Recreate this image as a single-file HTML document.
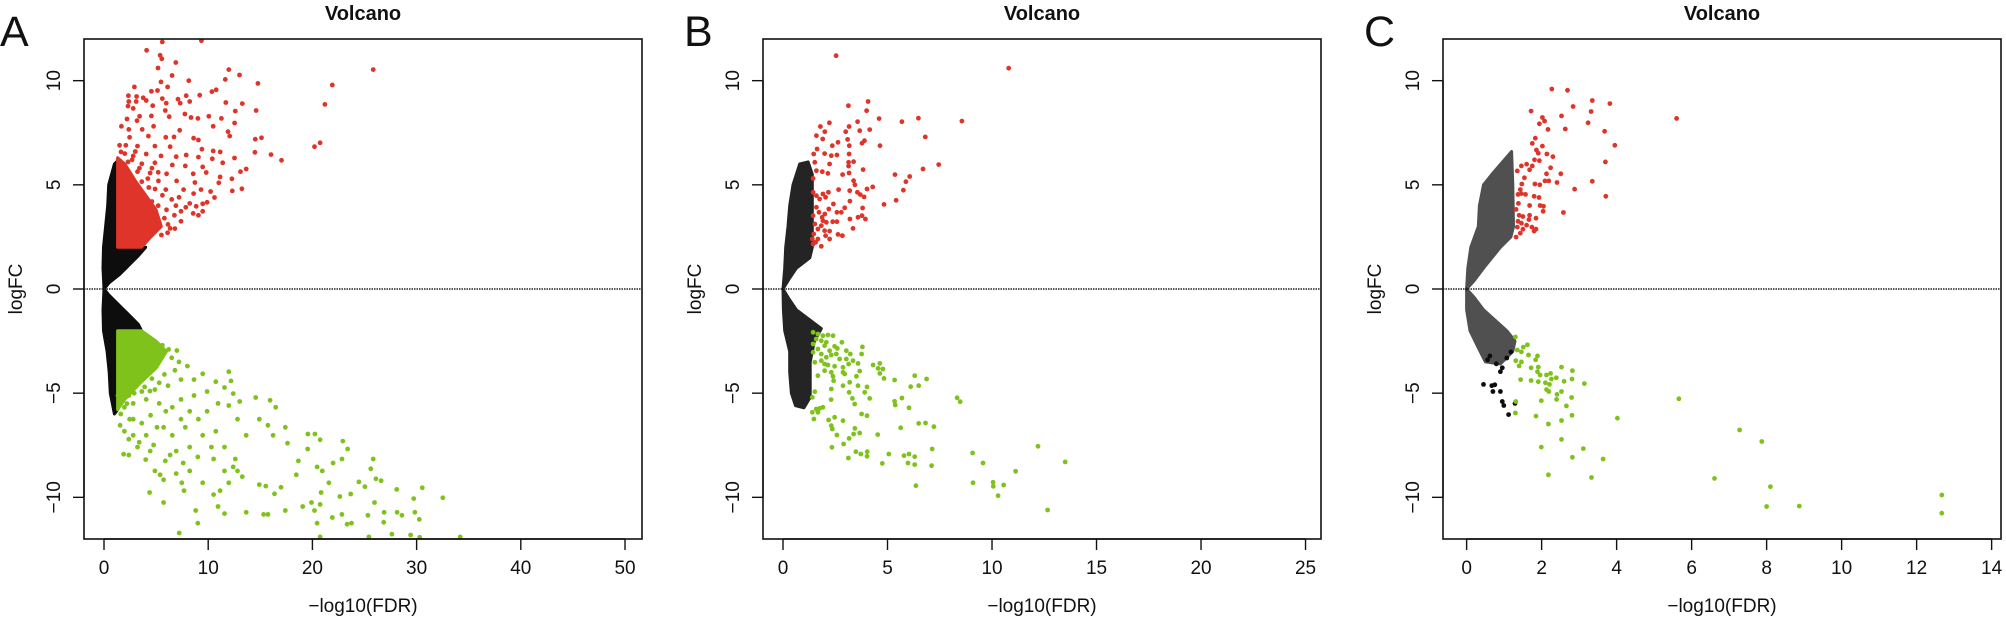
<!DOCTYPE html>
<html><head><meta charset="utf-8"><style>
html,body{margin:0;padding:0;background:#fff;}
svg{display:block;font-family:"Liberation Sans",Arial,sans-serif;}
</style></head><body>
<svg id="fig" width="2006" height="620" viewBox="0 0 2006 620" xmlns="http://www.w3.org/2000/svg"></svg>
<script>
// ---- shared data ----
const yTicks = [-10,-5,0,5,10];
const xTicksA = [0,10,20,30,40,50];
const xTicksB = [0,5,10,15,20,25];
const xTicksC = [0,2,4,6,8,10,12,14];

// Panel A
const blackUpA = [[0,0],[-0.1,1],[-0.05,2],[0.15,3],[0.35,4],[0.45,5],[1.0,6],[1.2,6.1],[1.3,6],[1.3,2],[4,2],[3.3,1.6],[2.3,1.1],[1.5,0.7],[0.5,0.3],[0,0]];
const blackDnA = [[0,0],[-0.1,-1],[-0.05,-2],[0.3,-3],[0.5,-4],[0.6,-5],[1.0,-6],[1.3,-5.8],[1.3,-2],[3.6,-2],[3.3,-1.7],[2.5,-1.3],[1.5,-0.8],[0.5,-0.3],[0,0]];
const redBlockA = [[1.3,2],[3.6,2],[4.5,2.5],[5.5,3],[5,3.8],[4,4.5],[3,5.2],[2,6],[1.3,6.3]];
const greenBlockA = [[1.3,-2],[3.6,-2],[5,-2.5],[6,-3],[5,-3.8],[3.5,-4.5],[2,-5.3],[1.3,-5.8]];
const redA = [[5.59,11.86],[9.35,11.92],[4.09,11.46],[5.38,11.22],[5.55,11.05],[6.89,10.87],[5.18,10.61],[11.98,10.53],[25.83,10.53],[13.0,10.27],[6.53,10.25],[8.14,10.0],[11.64,10.06],[14.77,9.87],[21.91,9.79],[5.47,9.94],[6.1,9.7],[2.92,9.7],[4.55,9.49],[5.13,9.53],[10.35,9.47],[10.77,9.56],[2.34,9.28],[3.13,9.24],[3.76,9.18],[7.89,9.28],[9.18,9.3],[2.38,9.0],[3.09,9.0],[4.05,9.05],[5.59,9.14],[7.1,9.11],[8.22,9.0],[11.69,8.95],[13.27,8.9],[21.2,8.86],[4.67,8.8],[5.97,8.92],[7.31,8.92],[2.3,8.78],[2.8,8.67],[12.6,8.54],[14.6,8.57],[7.76,8.4],[8.35,8.23],[9.01,8.19],[10.06,8.29],[6.26,8.27],[4.55,8.31],[3.42,8.29],[2.21,8.16],[3.17,8.08],[11.27,8.19],[5.88,8.57],[10.48,7.81],[12.53,7.97],[4.76,7.81],[1.67,7.81],[2.38,7.66],[3.67,7.66],[7.26,7.62],[11.9,7.55],[12.06,7.34],[14.52,7.19],[15.11,7.26],[2.46,7.28],[4.26,7.34],[5.93,7.28],[6.72,7.3],[8.6,7.24],[9.06,7.15],[20.2,6.83],[20.74,7.02],[2.09,6.9],[3.21,6.86],[4.88,6.86],[6.34,6.83],[9.39,6.71],[14.48,6.56],[16.03,6.45],[17.03,6.18],[10.48,6.63],[11.15,6.58],[1.63,6.58],[2.8,6.39],[4.05,6.48],[5.47,6.39],[6.93,6.35],[7.89,6.43],[9.06,6.33],[10.39,6.25],[11.39,6.06],[12.52,6.29],[2.3,6.1],[3.63,6.01],[4.88,6.06],[6.55,5.95],[7.8,5.91],[9.47,5.86],[13.65,5.76],[13.1,5.63],[1.75,5.72],[3.21,5.63],[4.42,5.57],[6.01,5.53],[8.56,5.53],[9.81,5.59],[11.14,5.38],[12.27,5.29],[1.71,5.3],[2.38,5.21],[3.63,5.15],[5.22,5.19],[6.97,5.19],[8.72,5.11],[11.02,5.1],[12.31,4.71],[13.23,4.81],[1.96,4.81],[4.3,4.87],[5.93,4.77],[7.64,4.77],[9.31,4.77],[10.23,4.68],[8.6,4.58],[10.6,4.39],[9.47,4.09],[9.89,4.16],[8.85,3.97],[8.56,3.63],[9.06,3.54],[9.47,3.73],[7.85,3.92],[8.22,4.11],[7.39,3.73],[6.76,3.54],[7.39,3.25],[6.14,3.1],[6.34,2.91],[5.51,2.59],[4.6,4.2],[5.2,4.0],[6.0,3.8],[6.5,4.3],[5.6,4.5],[4.9,4.8],[4.2,5.3],[3.4,5.8],[2.7,6.2],[6.8,2.9],[6.1,2.7],[5.8,3.4],[6.9,4.0],[7.2,4.4],[5.2,5.6],[4.6,5.8],[3.0,6.6],[2.0,6.5],[1.5,6.9]];
const greenA = [[7.22,-11.71],[9.0,-11.24],[8.8,-10.63],[5.72,-10.25],[4.38,-9.77],[5.38,-8.92],[5.72,-9.16],[6.93,-8.86],[2.38,-7.97],[1.88,-7.93],[4.0,-8.19],[5.88,-8.25],[7.6,-8.35],[9.0,-8.06],[6.93,-7.78],[4.76,-7.49],[3.38,-7.36],[2.38,-7.21],[1.96,-6.83],[1.54,-6.54],[2.46,-6.25],[3.63,-6.44],[4.47,-6.06],[5.72,-6.64],[6.55,-7.02],[7.8,-6.64],[9.06,-6.25],[9.89,-5.87],[10.94,-5.49],[11.98,-5.59],[12.81,-6.25],[10.73,-6.83],[9.47,-7.02],[11.56,-7.59],[12.6,-8.16],[13.65,-7.02],[14.56,-5.21],[14.9,-6.25],[15.94,-5.34],[16.48,-5.68],[15.73,-6.54],[16.23,-7.02],[17.4,-6.64],[17.61,-7.4],[18.66,-8.25],[18.45,-8.92],[19.57,-6.96],[20.24,-6.96],[20.74,-7.24],[20.45,-8.54],[20.95,-8.73],[19.55,-7.68],[21.99,-8.35],[22.84,-8.16],[22.92,-7.3],[23.38,-7.68],[24.46,-9.26],[25.04,-9.49],[25.83,-8.16],[25.6,-8.63],[26.09,-9.11],[26.59,-9.2],[23.67,-9.84],[22.63,-9.96],[21.58,-9.3],[20.83,-9.77],[20.74,-10.34],[19.91,-10.25],[19.07,-10.44],[20.2,-10.63],[21.91,-10.97],[22.83,-10.82],[23.33,-11.29],[23.75,-11.24],[25.33,-10.86],[25.96,-10.25],[26.88,-10.72],[26.84,-11.2],[28.09,-9.62],[28.13,-10.72],[28.59,-10.86],[29.72,-10.06],[29.84,-10.72],[30.26,-11.06],[30.55,-9.54],[32.51,-10.02],[34.18,-11.9],[30.3,-11.92],[29.42,-11.81],[27.63,-11.77],[25.42,-11.9],[20.74,-11.9],[20.45,-11.24],[15.32,-10.82],[15.73,-10.82],[17.4,-10.63],[14.9,-9.39],[15.53,-9.46],[16.36,-9.83],[16.99,-9.52],[13.65,-10.72],[11.56,-10.78],[10.94,-10.44],[11.14,-9.68],[10.52,-9.87],[11.98,-9.3],[13.27,-9.01],[11.56,-8.73],[12.81,-8.73],[12.4,-8.54],[10.52,-8.16],[10.31,-7.59],[8.22,-7.59],[8.22,-8.73],[7.47,-9.3],[7.68,-9.68],[9.47,-9.3],[6.34,-7.97],[4.88,-8.73],[4.43,-7.78],[3.21,-7.59],[2.8,-7.02],[4.05,-7.02],[5.09,-6.64],[7.39,-6.25],[8.22,-5.87],[6.55,-5.68],[5.3,-5.49],[4.05,-5.3],[2.8,-5.49],[1.96,-5.68],[1.34,-5.11],[2.38,-5.11],[3.63,-4.92],[4.88,-4.83],[6.14,-4.64],[7.39,-4.35],[8.64,-4.35],[9.47,-4.07],[10.73,-4.45],[11.98,-3.97],[12.19,-4.41],[11.56,-4.73],[12.4,-5.02],[13.02,-5.4],[9.89,-4.92],[8.64,-5.11],[7.39,-5.3],[5.93,-5.87],[2.8,-6.25],[6.5,-3.3],[7.2,-3.5],[8.0,-3.7],[6.8,-3.9],[5.8,-4.1],[4.6,-4.3],[6.2,-2.9],[5.6,-2.7],[7.0,-2.95],[3.9,-4.7],[2.9,-5.0],[2.2,-5.5],[1.6,-6.0],[4.4,-4.9],[5.3,-4.5]];

// Panel B
const blackUpB = [[0,0],[0.08,1],[0.13,2],[0.24,3],[0.32,4],[0.48,5],[0.8,6],[1.2,6.1],[1.4,5.5],[1.4,2],[1.28,1.5],[0.64,1],[0.3,0.5],[0,0]];
const blackDnB = [[0,0],[0.02,-1],[0.08,-2],[0.32,-3],[0.32,-4],[0.4,-5],[0.6,-5.6],[1.0,-5.7],[1.3,-5.2],[1.3,-3.5],[1.5,-2.5],[1.83,-1.9],[0.64,-1],[0.3,-0.5],[0,0]];
const redB = [[2.54,11.2],[10.8,10.6],[4.07,9.0],[3.13,8.8],[4.0,8.56],[4.6,8.18],[2.22,7.98],[3.57,8.03],[5.69,8.03],[6.48,8.2],[8.56,8.06],[1.79,7.8],[3.16,7.8],[3.67,7.6],[4.15,7.65],[1.6,7.36],[2.0,7.55],[3.0,7.55],[6.81,7.3],[3.09,7.18],[3.9,7.12],[3.78,7.0],[1.9,7.2],[2.36,6.88],[2.63,7.04],[3.17,6.88],[4.64,6.88],[1.63,6.72],[1.99,6.5],[2.58,6.43],[3.16,6.48],[1.47,6.48],[2.31,6.4],[3.38,6.11],[3.14,6.08],[7.45,5.97],[1.52,6.08],[2.23,6.0],[3.14,5.9],[3.83,5.73],[6.7,5.76],[1.6,5.68],[1.88,5.63],[2.15,5.55],[2.85,5.49],[3.16,5.57],[5.36,5.49],[6.06,5.4],[1.44,5.31],[3.38,5.2],[5.88,5.15],[3.44,5.0],[4.29,4.9],[4.02,4.8],[2.66,4.77],[3.19,4.72],[5.76,4.74],[1.44,4.64],[1.91,4.56],[2.17,4.64],[3.56,4.64],[3.7,4.53],[1.6,4.48],[2.04,4.4],[3.88,4.42],[3.2,4.22],[5.41,4.26],[4.83,4.06],[1.75,4.32],[2.41,4.08],[1.6,3.92],[2.19,3.84],[2.95,3.9],[3.81,3.89],[2.79,3.68],[2.58,3.68],[1.72,3.68],[2.0,3.6],[1.44,3.52],[1.87,3.44],[3.2,3.36],[3.59,3.44],[3.78,3.52],[3.94,3.36],[2.38,3.23],[2.07,3.2],[1.52,3.12],[1.83,3.04],[2.58,3.23],[3.35,2.91],[1.99,2.8],[1.67,2.88],[2.23,2.78],[2.63,2.62],[2.84,2.56],[1.47,2.64],[2.04,2.56],[2.23,2.4],[1.67,2.4],[1.44,2.16],[1.83,2.05],[1.56,2.24],[1.4,2.4],[1.91,3.28]];
const greenB = [[1.44,-2.08],[1.67,-2.16],[1.91,-2.24],[2.15,-2.21],[2.39,-2.24],[1.59,-2.4],[1.83,-2.48],[2.07,-2.56],[1.44,-2.64],[1.99,-2.72],[2.82,-2.56],[3.8,-2.78],[1.67,-2.88],[2.23,-2.96],[2.47,-2.75],[2.6,-2.85],[3.03,-2.96],[3.22,-3.12],[3.76,-3.12],[1.44,-3.04],[1.83,-3.12],[2.07,-3.28],[2.31,-3.17],[2.55,-3.12],[2.71,-3.36],[3.03,-3.36],[3.35,-3.44],[3.59,-3.57],[1.83,-3.44],[1.99,-3.6],[1.52,-3.52],[2.15,-3.65],[2.47,-3.71],[2.87,-3.76],[3.14,-3.6],[4.31,-3.65],[4.63,-3.57],[4.55,-3.81],[4.78,-3.84],[1.99,-3.92],[2.31,-4.0],[2.87,-4.0],[3.67,-3.94],[4.63,-4.05],[4.83,-4.29],[6.3,-4.16],[6.87,-4.32],[5.34,-4.37],[1.67,-4.16],[2.39,-4.19],[2.95,-4.08],[3.51,-4.19],[2.42,-4.4],[3.19,-4.48],[2.87,-4.64],[3.59,-4.64],[4.02,-4.7],[6.11,-4.69],[6.49,-4.64],[2.31,-4.8],[1.52,-4.93],[3.16,-4.96],[3.91,-4.96],[1.4,-5.2],[2.3,-5.31],[3.32,-5.25],[4.15,-5.25],[5.69,-5.23],[5.34,-5.39],[5.37,-5.57],[6.03,-5.7],[8.33,-5.22],[8.48,-5.41],[1.59,-5.76],[1.75,-5.73],[1.91,-5.68],[3.43,-5.52],[1.4,-5.92],[1.67,-5.92],[1.48,-6.24],[2.47,-6.16],[2.18,-6.29],[2.87,-6.32],[3.76,-6.0],[4.02,-6.08],[2.31,-6.56],[3.44,-6.69],[3.67,-6.91],[2.36,-6.72],[2.58,-7.01],[3.16,-7.17],[3.38,-6.96],[4.53,-6.99],[5.63,-6.66],[6.49,-6.45],[6.82,-6.43],[7.22,-6.61],[2.9,-7.44],[2.34,-7.6],[3.13,-8.11],[3.49,-7.81],[3.72,-7.92],[4.03,-7.81],[4.02,-8.03],[5.06,-7.92],[5.79,-8.0],[6.03,-7.92],[6.3,-8.05],[7.14,-7.68],[4.75,-8.37],[5.98,-8.35],[6.3,-8.43],[7.11,-8.48],[9.07,-7.87],[9.57,-8.35],[12.2,-7.55],[11.13,-8.75],[9.09,-9.3],[10.05,-9.28],[10.06,-9.47],[10.56,-9.41],[10.29,-9.92],[6.36,-9.44],[12.66,-10.61],[13.5,-8.3]];

// Panel C
const blackUpC = [[0,0],[0.03,1],[0.11,2],[0.31,3],[0.34,4],[0.45,5],[0.67,5.5],[1.2,6.6],[1.23,5],[1.25,3],[1.18,2.5],[0.9,2],[0.45,1],[0.2,0.4],[0,0]];
const blackDnC = [[0,0],[0,-1],[0.09,-2],[0.28,-2.7],[0.5,-3.5],[0.9,-3.6],[1.23,-3],[1.29,-2.5],[1.07,-2],[0.45,-1],[0.2,-0.4],[0,0]];
const blackC = [[0.45,-4.58],[0.67,-4.64],[0.75,-4.6],[0.7,-4.92],[0.9,-4.92],[0.95,-5.4],[0.99,-5.59],[1.12,-6.03],[1.29,-5.49],[0.9,-3.97],[0.95,-3.78],[0.79,-3.59],[0.56,-3.4],[0.62,-3.21],[1.07,-3.31],[1.18,-3.02]];
const redC = [[2.27,9.6],[2.69,9.54],[3.35,9.05],[3.82,8.9],[2.84,8.76],[1.72,8.54],[3.32,8.52],[2.53,8.31],[5.6,8.19],[2.02,8.23],[2.08,8.06],[1.94,7.93],[3.24,7.98],[2.17,7.66],[2.63,7.68],[3.68,7.57],[1.83,7.24],[1.75,6.99],[2.02,6.86],[3.95,6.9],[1.86,6.67],[2.14,6.48],[1.91,6.52],[2.3,6.35],[1.81,6.2],[1.94,6.16],[3.7,6.1],[1.6,5.99],[1.75,5.91],[1.46,5.91],[2.24,5.82],[1.35,5.67],[1.68,5.72],[2.13,5.53],[2.51,5.53],[1.54,5.34],[2.09,5.19],[2.19,5.19],[2.41,5.11],[3.35,5.17],[1.82,5.04],[1.47,5.04],[1.95,5.0],[2.88,4.79],[1.43,4.77],[1.37,4.54],[1.57,4.54],[1.46,4.58],[3.71,4.45],[1.8,4.45],[1.93,4.39],[1.38,4.11],[1.32,3.82],[1.68,4.01],[1.96,4.01],[2.05,3.97],[2.04,3.73],[2.58,3.67],[1.4,3.54],[1.68,3.54],[1.5,3.48],[1.66,3.33],[1.85,3.4],[1.37,3.25],[1.46,3.16],[1.6,3.06],[1.74,2.97],[1.85,2.87],[1.35,2.97],[1.5,2.87],[1.43,2.68],[1.32,2.49],[1.8,2.78]];
const greenC = [[1.3,-2.3],[1.62,-2.68],[1.51,-2.79],[1.35,-2.93],[1.46,-3.02],[1.65,-3.17],[1.89,-3.21],[1.84,-3.4],[1.31,-3.44],[1.46,-3.5],[1.4,-3.69],[1.72,-3.78],[1.91,-3.75],[2.53,-3.75],[2.82,-3.92],[1.89,-3.97],[1.96,-4.13],[2.13,-4.13],[2.24,-4.05],[2.39,-4.26],[2.26,-4.32],[2.81,-4.32],[1.44,-4.35],[1.72,-4.39],[1.91,-4.45],[2.6,-4.43],[2.1,-4.5],[3.14,-4.54],[2.21,-4.58],[2.13,-4.83],[2.19,-4.92],[2.53,-4.92],[2.41,-5.06],[2.8,-5.21],[5.66,-5.27],[1.99,-5.36],[2.4,-5.3],[2.66,-5.61],[2.81,-6.06],[1.85,-6.1],[4.02,-6.2],[1.3,-5.95],[1.31,-5.4],[2.53,-6.31],[2.18,-6.48],[7.28,-6.77],[7.87,-7.32],[2.53,-7.22],[1.99,-7.59],[3.11,-7.66],[3.64,-8.16],[2.82,-8.08],[2.18,-8.92],[3.33,-9.05],[6.61,-9.09],[8.1,-9.49],[8.0,-10.44],[8.87,-10.42],[12.67,-9.89],[12.67,-10.76]];

const NS = 'http://www.w3.org/2000/svg';
const svg = document.getElementById('fig');
const RED = '#df3429', GREEN = '#7ec21b', BLACK = '#0d0d0d';

function mk(tag, attrs, parent){
  const e = document.createElementNS(NS, tag);
  for (const k in attrs) e.setAttribute(k, attrs[k]);
  (parent||svg).appendChild(e);
  return e;
}

const panels = [
  {id:'a', letter:'A', letterX:0, L:84, xmin:-1.92, xmax:51.63, xt:xTicksA, op:1,
   polys:[[blackUpA,BLACK],[blackDnA,BLACK],[redBlockA,RED],[greenBlockA,GREEN]],
   pts:[[redA,RED,'red'],[greenA,GREEN,'green']]},
  {id:'b', letter:'B', letterX:684, L:763, xmin:-0.957, xmax:25.74, xt:xTicksB, op:0.9,
   polys:[[blackUpB,BLACK],[blackDnB,BLACK]],
   pts:[[redB,RED,'red'],[greenB,GREEN,'green']]},
  {id:'c', letter:'C', letterX:1364, L:1443, xmin:-0.63, xmax:14.25, xt:xTicksC, op:0.72,
   polys:[[blackUpC,BLACK],[blackDnC,BLACK]],
   pts:[[blackC,BLACK,'black'],[redC,RED,'red'],[greenC,GREEN,'green']]}
];
const TOP = 39, BOT = 539, W = 558, YMIN = -12, YMAX = 12;

panels.forEach(p => {
  const g = mk('g', {});
  
  
  const R = p.L + W;
  const sx = v => p.L + (v - p.xmin) / (p.xmax - p.xmin) * W;
  const sy = v => BOT - (v - YMIN) / (YMAX - YMIN) * (BOT - TOP);

  const clipId = 'clip' + p.id;
  const cp = mk('clipPath', {id: clipId}, g);
  mk('rect', {x:p.L, y:TOP, width:W, height:BOT-TOP}, cp);
  const plot = mk('g', {'clip-path':'url(#'+clipId+')'}, g);
  
  

  p.polys.forEach(([arr, col]) => {
    const pl = mk('polygon', {points: arr.map(d => sx(d[0]).toFixed(1)+','+sy(d[1]).toFixed(1)).join(' '),
      fill: col, stroke: col, 'stroke-width': 3, 'stroke-linejoin':'round', opacity: col === BLACK ? p.op : 1}, plot);
    
    
  });
  p.pts.forEach(([arr, col, nm]) => {
    arr.forEach(d => {
      const c = mk('circle', {cx: sx(d[0]).toFixed(1), cy: sy(d[1]).toFixed(1), r: 2.4, fill: col}, plot);
      
      
    });
  });

  const zl = mk('line', {x1:p.L, x2:R, y1:sy(0), y2:sy(0), stroke:'#222', 'stroke-width':1.6, 'stroke-dasharray':'1.5,1'}, g);
  
  

  const box = mk('rect', {x:p.L, y:TOP, width:W, height:BOT-TOP, fill:'none', stroke:'#111', 'stroke-width':1.6}, g);
  
  

  const x0 = sx(p.xt[0]), x1 = sx(p.xt[p.xt.length-1]);
  const xa = mk('line', {x1:x0, x2:x1, y1:BOT, y2:BOT, stroke:'#111', 'stroke-width':1.4}, g);
  
  
  p.xt.forEach(v => {
    mk('line', {x1:sx(v), x2:sx(v), y1:BOT, y2:BOT+11, stroke:'#111', 'stroke-width':1.4}, g);
    const t = mk('text', {x:sx(v), y:574, 'font-size':19, 'text-anchor':'middle', fill:'#111'}, g);
    t.textContent = v;
    
    
  });
  yTicks.forEach(v => {
    mk('line', {x1:p.L-11, x2:p.L, y1:sy(v), y2:sy(v), stroke:'#111', 'stroke-width':1.4}, g);
    const tx = p.L - 24, ty = sy(v);
    const t = mk('text', {x:tx, y:ty, 'font-size':19, 'text-anchor':'middle', fill:'#111', transform:'rotate(-90 '+tx+' '+ty+')'}, g);
    t.textContent = v < 0 ? '\u2212' + Math.abs(v) : v;
    
    
  });
  const ya = mk('line', {x1:p.L, x2:p.L, y1:sy(yTicks[0]), y2:sy(yTicks[yTicks.length-1]), stroke:'#111', 'stroke-width':1.4}, g);
  
  

  const cx = p.L + W/2;
  const title = mk('text', {x:cx, y:20, 'font-size':20, 'font-weight':'bold', 'text-anchor':'middle', fill:'#111'}, g);
  title.textContent = 'Volcano';
  
  

  const xl = mk('text', {x:cx, y:612, 'font-size':19, 'text-anchor':'middle', fill:'#111'}, g);
  xl.textContent = '\u2212log10(FDR)';
  
  

  const ylx = p.L - 62, yly = (TOP+BOT)/2;
  const yl = mk('text', {x:ylx, y:yly, 'font-size':19, 'text-anchor':'middle', fill:'#111', transform:'rotate(-90 '+ylx+' '+yly+')'}, g);
  yl.textContent = 'logFC';
  
  

  const lt = mk('text', {x:p.letterX, y:46, 'font-size':43, fill:'#111'}, g);
  lt.textContent = p.letter;
  
  
});
</script>
</body></html>
